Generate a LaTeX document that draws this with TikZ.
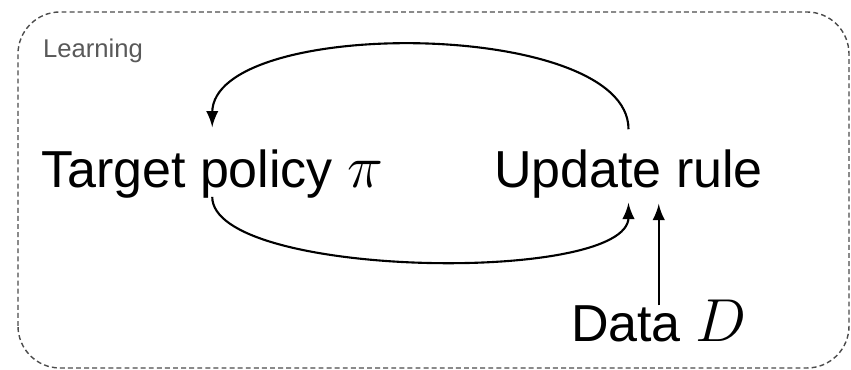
\documentclass[tikz,border=0pt]{standalone}
\usepackage{amsmath, amssymb}
\usepackage{fontspec}
\setmainfont{Liberation Sans}

\begin{document}
\begin{tikzpicture}[>=latex, semithick]
    % --- Frame: Learning ---
    \useasboundingbox (0,0) rectangle (8.51,3.70);
    \draw[black!70, thin, dash pattern=on 1.4pt off 0.9pt, rounded corners=0.42cm] (0.18,0.02) rectangle (8.49,3.58);
    \node[anchor=base west, inner sep=0pt, text=black!65, font=\fontsize{7.3}{9}\selectfont] (learning) at (0.42,3.12) {Learning};

    % Nodes
    \tikzset{bigtext/.style={anchor=base west, inner sep=0pt, font=\fontsize{14.8}{18}\selectfont}}
    \def\bigmath#1{{\fontsize{17}{20}\selectfont$#1$}}
    \node[bigtext] (policy) at (0.40,1.82) {Target policy \bigmath{\pi}};
    \node[bigtext] (update) at (4.93,1.82) {Update rule};
    \node[bigtext] (data) at (5.70,0.28) {Data \bigmath{D}};

    % Draw Arrows
    \draw[->] ([yshift=0.2cm]update.north) to[out=90, in=90, looseness=0.68] ([yshift=0.22cm]policy.north);
    \draw[->] ([yshift=0.03cm]policy.south) to[out=-90, in=-90, looseness=0.5] ([yshift=-0.03cm]update.south);
    \draw[->] ([yshift=-0.06cm]data.north) -- ([yshift=-0.04cm]data.north |- update.south);
\end{tikzpicture}
\end{document}
